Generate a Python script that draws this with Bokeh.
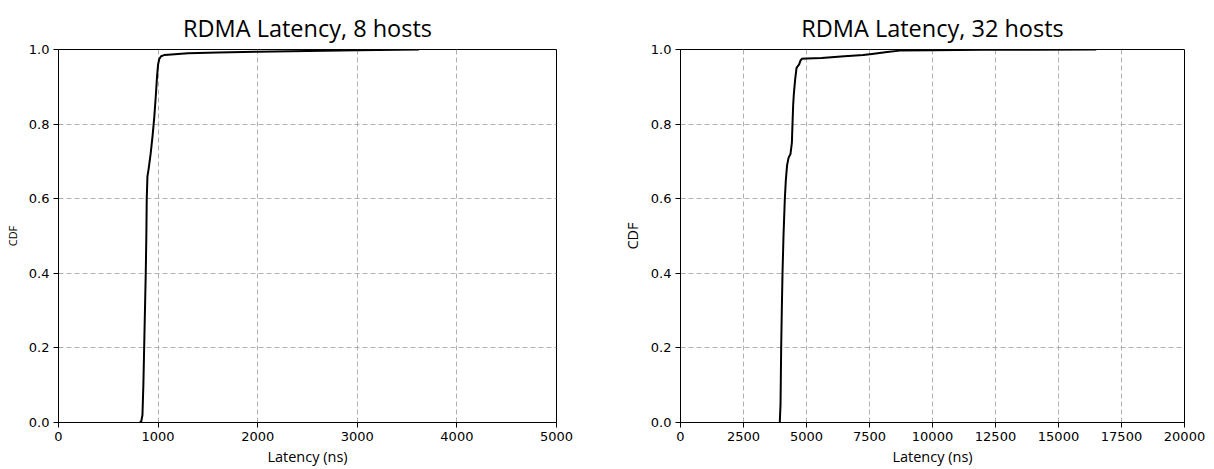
from bokeh.plotting import figure
from bokeh.layouts import row
from bokeh.models import FixedTicker, NumeralTickFormatter, BasicTickFormatter, Range1d
from bokeh.embed import file_html
from bokeh.resources import INLINE

# ---- data ----
lat_8 = [815, 830, 843, 852, 860, 868, 876, 882, 886, 893, 905, 925, 945, 962, 978,
         990, 1000, 1012, 1030, 1060, 1100, 1200, 1300, 1600, 2000, 2500, 3000, 3620]
cdf_8 = [0.0, 0.002, 0.02, 0.1, 0.2, 0.3, 0.4, 0.5, 0.6, 0.66, 0.68, 0.72, 0.77, 0.82, 0.88,
         0.93, 0.96, 0.975, 0.982, 0.985, 0.986, 0.988, 0.99, 0.992, 0.994, 0.996, 0.998, 1.0]

lat_32 = [3940, 3970, 3995, 4020, 4048, 4087, 4140, 4180, 4230, 4290, 4365, 4420, 4444, 4470,
          4497, 4550, 4603, 4650, 4709, 4760, 4815, 5000, 5600, 6500, 7250, 7600, 8200, 8700,
          10000, 12000, 14000, 16500]
cdf_32 = [0.0, 0.05, 0.2, 0.3, 0.4, 0.5, 0.6, 0.65, 0.69, 0.71, 0.72, 0.75, 0.8, 0.85,
          0.88, 0.92, 0.95, 0.955, 0.96, 0.97, 0.975, 0.976, 0.977, 0.982, 0.985, 0.988, 0.993, 0.997,
          0.998, 0.999, 0.9995, 1.0]

x_ticks_8 = [0, 1000, 2000, 3000, 4000, 5000]
x_ticks_32 = [0, 2500, 5000, 7500, 10000, 12500, 15000, 17500, 20000]
y_ticks = [0.0, 0.2, 0.4, 0.6, 0.8, 1.0]

titles = ["RDMA Latency, 8 hosts", "RDMA Latency, 32 hosts"]
x_label = "Latency (ns)"
y_label = "CDF"


def make_plot(title, xs, ys, xmax, xticks, width, bl, br, bt, ylab_size):
    p = figure(width=width, height=469, output_backend="svg", toolbar_location=None,
               x_range=Range1d(0, xmax), y_range=Range1d(0, 1),
               min_border_left=bl, min_border_right=br, min_border_top=bt, min_border_bottom=47)
    p.title.text = title
    p.title.align = "center"
    p.title.text_font = "Open Sans"
    p.title.text_font_size = "23.5px"
    p.title.text_font_style = "normal"
    p.title.text_color = "#000000"
    p.title.standoff = 11

    p.outline_line_color = "black"
    p.outline_line_alpha = 1.0
    p.outline_line_width = 1
    p.background_fill_color = "white"
    p.border_fill_color = "white"

    for ax in (p.xaxis[0], p.yaxis[0]):
        ax.major_label_text_font = "DejaVu Sans"
        ax.major_label_text_font_size = "13px"
        ax.major_label_text_color = "#000000"
        ax.axis_label_text_font = "Open Sans"
        ax.axis_label_text_font_style = "normal"
        ax.axis_label_text_color = "#000000"
        ax.major_tick_out = 5
        ax.major_tick_in = 0
        ax.minor_tick_out = 0
        ax.minor_tick_in = 0
        ax.axis_line_color = "black"
        ax.major_tick_line_color = "black"
        ax.major_label_standoff = 4

    p.xaxis[0].ticker = FixedTicker(ticks=xticks)
    p.xaxis[0].formatter = BasicTickFormatter(use_scientific=False)
    p.xaxis[0].axis_label = x_label
    p.xaxis[0].axis_label_text_font_size = "14.5px"
    p.xaxis[0].axis_label_standoff = 3

    p.yaxis[0].ticker = FixedTicker(ticks=y_ticks)
    p.yaxis[0].formatter = NumeralTickFormatter(format="0.0")
    p.yaxis[0].axis_label = y_label
    p.yaxis[0].axis_label_text_font_size = ylab_size
    p.yaxis[0].axis_label_standoff = 6

    for g in (p.xgrid[0], p.ygrid[0]):
        g.grid_line_color = "#b0b0b0"
        g.grid_line_dash = "5 3"
        g.grid_line_width = 1
    p.xgrid[0].ticker = FixedTicker(ticks=xticks)
    p.ygrid[0].ticker = FixedTicker(ticks=y_ticks)

    p.line(xs, ys, line_color="black", line_width=2)
    return p


p1 = make_plot(titles[0], lat_8, cdf_8, 5000, x_ticks_8, 600, 58, 44, 49, "11px")
p2 = make_plot(titles[1], lat_32, cdf_32, 20000, x_ticks_32, 614, 80, 30, 45, "14.5px")

layout = row(p1, p2)
with open("out.html", "w") as f:
    f.write(file_html(layout, INLINE))
